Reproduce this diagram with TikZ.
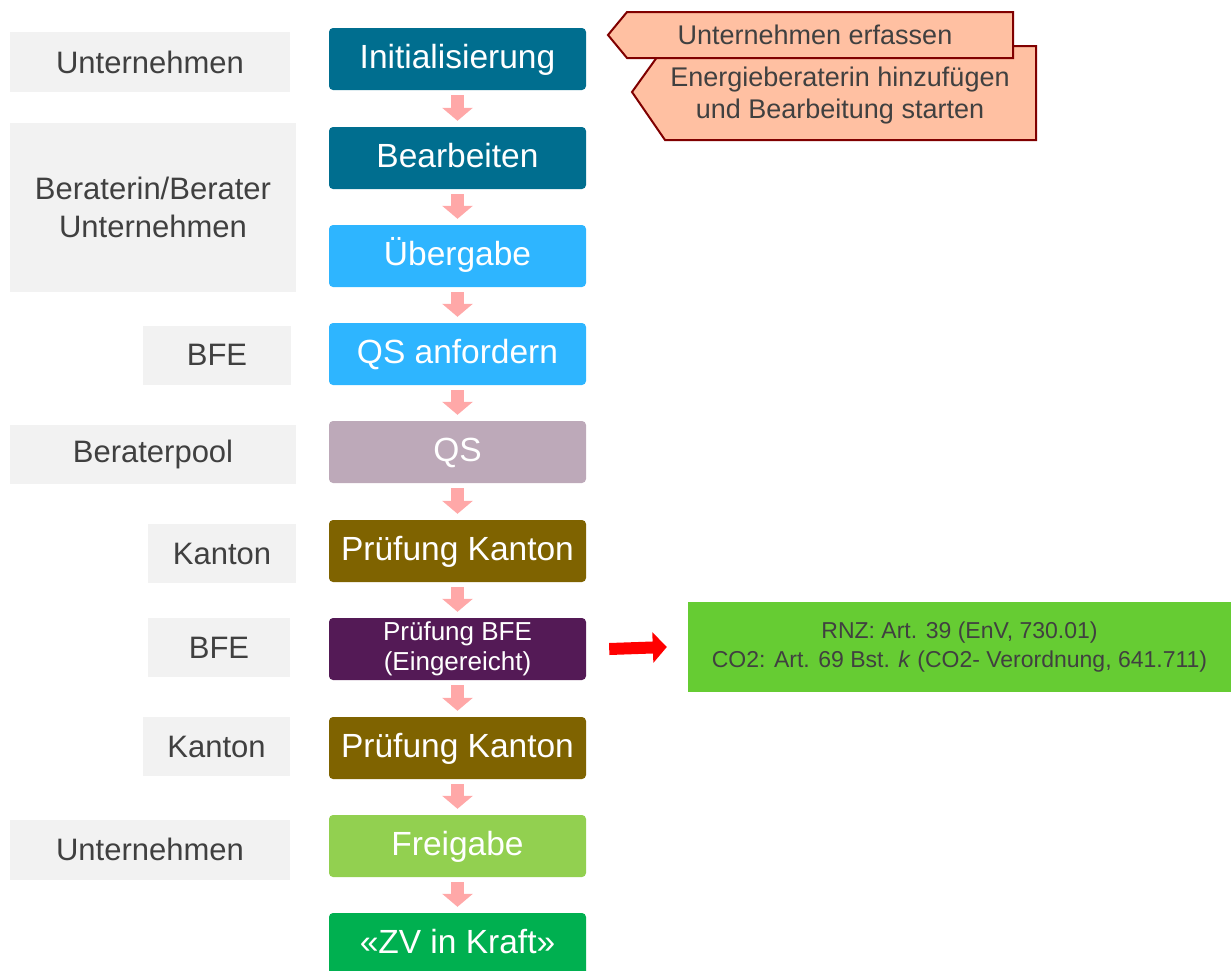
\documentclass[tikz,border=0pt]{standalone}
\usepackage{fontspec}
\setmainfont{Liberation Sans}
\usetikzlibrary{arrows.meta}
\definecolor{teal1}{RGB}{0,110,143}
\definecolor{blue1}{RGB}{46,181,255}
\definecolor{mauve1}{RGB}{189,169,185}
\definecolor{olive1}{RGB}{127,99,0}
\definecolor{purple1}{RGB}{84,26,86}
\definecolor{green1}{RGB}{146,208,80}
\definecolor{green2}{RGB}{0,176,80}
\definecolor{green3}{RGB}{102,204,51}
\definecolor{pink1}{RGB}{255,168,168}
\definecolor{grey1}{RGB}{242,242,242}
\definecolor{txt}{RGB}{64,64,64}
\definecolor{salmon}{RGB}{255,192,162}
\definecolor{darkred1}{RGB}{128,0,0}
\tikzset{
  mainbox/.style={rectangle, rounded corners=4pt, minimum width=257pt, minimum height=62pt,
    inner sep=0pt, text=white, font=\fontsize{33.5}{38}\selectfont, align=center},
  oneline/.style={text height=26pt, text depth=7pt},
  rolebox/.style={rectangle, fill=grey1, inner sep=0pt, text=txt,
    font=\fontsize{31}{38}\selectfont, align=center},
  flowarrow/.style={draw=pink1, line width=13pt, -{Triangle[width=30pt,length=13pt]}},
  callout/.style={fill=salmon, draw=darkred1, line width=2pt, line join=miter},
  callouttext/.style={text=txt, font=\fontsize{27}{32}\selectfont, align=center, inner sep=0pt}
}
\begin{document}
\begin{tikzpicture}[x=1pt,y=-1pt]
\useasboundingbox (0,0) rectangle (1231,970);
\clip (0,0) rectangle (1231,970);
% main flow
\node[mainbox, oneline, fill=teal1] (n1) at (457.5,59) {Initialisierung};
\node[mainbox, oneline, fill=teal1] (n2) at (457.5,158) {Bearbeiten};
\node[mainbox, oneline, fill=blue1] (n3) at (457.5,256) {Übergabe};
\node[mainbox, oneline, fill=blue1] (n4) at (457.5,354) {QS anfordern};
\node[mainbox, oneline, fill=mauve1] (n5) at (457.5,452) {QS};
\node[mainbox, oneline, fill=olive1] (n6) at (457.5,551) {Prüfung Kanton};
\node[mainbox, fill=purple1, font=\fontsize{26}{30}\selectfont] (n7) at (457.5,649) {Prüfung BFE\\(Eingereicht)};
\node[mainbox, oneline, fill=olive1] (n8) at (457.5,748) {Prüfung Kanton};
\node[mainbox, oneline, fill=green1] (n9) at (457.5,846) {Freigabe};
\node[mainbox, oneline, fill=green2] (n10) at (457.5,944) {«ZV in Kraft»};
\foreach \a/\b in {n1/n2,n2/n3,n3/n4,n4/n5,n5/n6,n6/n7,n7/n8,n8/n9,n9/n10}
  \draw[flowarrow] ([yshift=-5pt]\a.south) -- ([yshift=6pt]\b.north);
% role boxes
\node[rolebox, minimum width=280pt, minimum height=60pt] (r1) at (150,62) {Unternehmen};
\node[rolebox, minimum width=286pt, minimum height=169pt] (r2) at (153,207.5) {Beraterin/Berater\\Unternehmen};
\node[rolebox, minimum width=148pt, minimum height=59pt] (r3) at (217,355) {BFE};
\node[rolebox, minimum width=286pt, minimum height=59pt] (r4) at (153,454.5) {Beraterpool};
\node[rolebox, minimum width=148pt, minimum height=59pt] (r5) at (222,553.5) {Kanton};
\node[rolebox, minimum width=142pt, minimum height=59pt] (r6) at (219,647.5) {BFE};
\node[rolebox, minimum width=147pt, minimum height=59pt] (r7) at (216.5,746.5) {Kanton};
\node[rolebox, minimum width=280pt, minimum height=60pt] (r8) at (150,849.5) {Unternehmen};
% callouts
\draw[callout] (632,92) -- (665,46) -- (1036,46) -- (1036,140) -- (665,140) -- cycle;
\node[callouttext] (c2) at (840,96) {Energieberaterin hinzufügen\\und Bearbeitung starten};
\draw[callout] (608,35) -- (627,12) -- (1013,12) -- (1013,58) -- (627,58) -- cycle;
\node[callouttext] (c1) at (815,35) {Unternehmen erfassen};
% legal reference
\node[rectangle, fill=green3, minimum width=543pt, minimum height=90pt, inner sep=0pt,
  text=txt, font=\fontsize{23}{29}\selectfont, align=center] (g) at (959.5,647)
  {RNZ: Art. 39 (EnV, 730.01)\\CO2: Art. 69 Bst. \textit{k} (CO2- Verordnung, 641.711)};
\draw[draw=red, line width=12pt, -{Triangle[width=30pt,length=14pt]}] ([xshift=23pt]n7.east) -- ([xshift=-21pt]g.west);
\end{tikzpicture}
\end{document}
